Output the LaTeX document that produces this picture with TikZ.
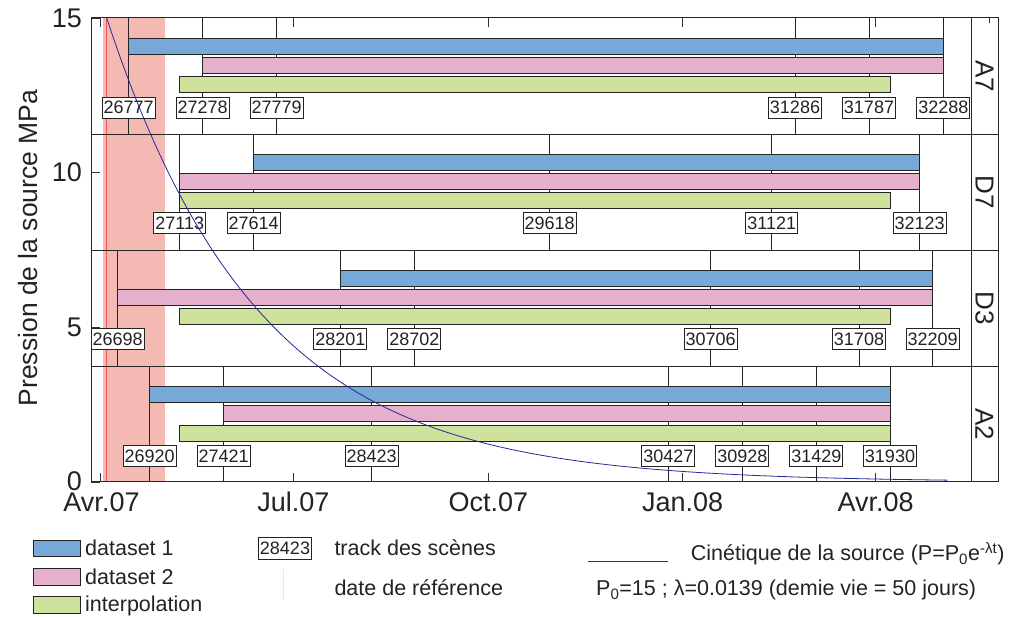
\documentclass[tikz,border=0pt]{standalone}
\usepackage{fontspec}
\setmainfont{Liberation Sans}
\definecolor{dsone}{RGB}{118,168,216}
\definecolor{dstwo}{RGB}{228,176,204}
\definecolor{interp}{RGB}{206,226,155}
\definecolor{refshade}{RGB}{245,185,180}
\definecolor{refred}{RGB}{238,85,85}
\definecolor{curvecol}{RGB}{35,40,155}
\definecolor{ink}{RGB}{35,35,35}
\definecolor{faint}{RGB}{245,228,228}
\begin{document}
\begin{tikzpicture}[x=1pt,y=-1pt,
  bar/.style={draw=ink,line width=0.8pt},
  trk/.style={draw=ink,line width=0.9pt},
  frame/.style={draw=black!85,line width=1pt},
  tick/.style={draw=black!80,line width=0.8pt},
  lbl/.style={draw=ink,fill=white,text=ink,line width=0.8pt,inner xsep=1.5pt,inner ysep=0pt,minimum height=21pt,font=\fontsize{18}{18}\selectfont},
  ticklab/.style={inner sep=0pt,text=ink,font=\fontsize{27}{27}\selectfont},
  rowlab/.style={inner sep=0pt,text=ink,rotate=-90,font=\fontsize{26}{26}\selectfont},
  legtext/.style={inner sep=0pt,anchor=base west,text=ink,font=\fontsize{21.5}{21.5}\selectfont},
  curve/.style={draw=curvecol,line width=0.8pt}]
\useasboundingbox (0,0) rectangle (1013,617);
% reference period
\fill[refshade] (103,18) rectangle (165,482);
\draw[refred,line width=1.2pt] (106.7,18) -- (106.7,482);
% track lines
\foreach \x in {128.7,202.7,276.7,795,869,943.3}{\draw[trk] (\x,18) -- (\x,134.3);}
\foreach \x in {179.7,253.7,549.7,771.7,919.7}{\draw[trk] (\x,134.3) -- (\x,250.3);}
\foreach \x in {117.7,340.3,414.3,710.7,859,932.7}{\draw[trk] (\x,250.3) -- (\x,366.7);}
\foreach \x in {149.7,223.7,371.7,668.3,742.3,816.3,890}{\draw[trk] (\x,366.7) -- (\x,482);}
% bars A7
\draw[bar,fill=dsone] (128.7,38.3) rectangle (943.3,54);
\draw[bar,fill=dstwo] (202.7,57.3) rectangle (943.3,73.3);
\draw[bar,fill=interp] (179.7,76.3) rectangle (890.3,92.3);
% bars D7
\draw[bar,fill=dsone] (253.7,154.3) rectangle (919.7,170.3);
\draw[bar,fill=dstwo] (179.7,173.3) rectangle (919.7,189.3);
\draw[bar,fill=interp] (179.7,192.3) rectangle (890.3,208.7);
% bars D3
\draw[bar,fill=dsone] (340.3,270.7) rectangle (932.7,286.3);
\draw[bar,fill=dstwo] (117.7,289.7) rectangle (932.7,305.7);
\draw[bar,fill=interp] (179.7,308.7) rectangle (890.3,324.7);
% bars A2
\draw[bar,fill=dsone] (149.7,386.3) rectangle (890,402.3);
\draw[bar,fill=dstwo] (223.7,405.7) rectangle (890,421.7);
\draw[bar,fill=interp] (179.7,425.3) rectangle (890,441.3);
% frame
\draw[frame] (91,18) rectangle (998,482);
\foreach \y in {134.3,250.3,366.7}{\draw[frame] (91,\y) -- (998,\y);}
\draw[frame] (971,18) -- (971,482);
% ticks
\foreach \x in {100.7,293.3,488.3,682.7,875.7}{
  \draw[tick] (\x,482) -- (\x,473);
  \draw[tick] (\x,18) -- (\x,27);}
\draw[tick] (989,18) -- (989,23);
\foreach \y in {18,172.7,327.3,482}{\draw[tick] (91,\y) -- (100,\y);}
% tick labels
\node[ticklab,anchor=east] (y15) at (82,18) {15};
\node[ticklab,anchor=east] (y10) at (82,172.7) {10};
\node[ticklab,anchor=east] (y5) at (82,327.3) {5};
\node[ticklab,anchor=east] (y0) at (82,481) {0};
\node[ticklab,anchor=base] (xa7) at (101.5,512) {Avr.07};
\node[ticklab,anchor=base] (xj7) at (293.3,512) {Jul.07};
\node[ticklab,anchor=base] (xo7) at (488.3,512) {Oct.07};
\node[ticklab,anchor=base] (xj8) at (682.7,512) {Jan.08};
\node[ticklab,anchor=base] (xa8) at (875.7,512) {Avr.08};
\node[inner sep=0pt,text=ink,rotate=90,font=\fontsize{26.5}{26.5}\selectfont] (ylab) at (28,248) {Pression de la source MPa};
% row labels
\node[rowlab] (rA7) at (984.5,76) {A7};
\node[rowlab] (rD7) at (984.5,192) {D7};
\node[rowlab] (rD3) at (984.5,308.5) {D3};
\node[rowlab] (rA2) at (984.5,424.5) {A2};
% track labels
\foreach \x/\t in {128.7/26777,202.7/27278,276.7/27779,795/31286,869/31787,943.3/32288}{\node[lbl] (a7-\t) at (\x,107.7) {\t};}
\foreach \x/\t in {179.7/27113,253.7/27614,549.7/29618,771.7/31121,919.7/32123}{\node[lbl] (d7-\t) at (\x,223.3) {\t};}
\foreach \x/\t in {117.7/26698,340.3/28201,414.3/28702,710.7/30706,859/31708,932.7/32209}{\node[lbl] (d3-\t) at (\x,339.3) {\t};}
\foreach \x/\t in {149.7/26920,223.7/27421,371.7/28423,668.3/30427,742.3/30928,816.3/31429,890/31930}{\node[lbl] (a2-\t) at (\x,456) {\t};}
% source kinetics curve
\draw[curve] plot[domain=0:397,samples=200,smooth] ({106.7+2.1175*\x},{482-30.93*15*exp(-0.0139*\x)});
% legend left
\draw[bar,fill=dsone] (33.3,540) rectangle (80,556.7);
\draw[bar,fill=dstwo] (33.3,568.3) rectangle (80,585);
\draw[bar,fill=interp] (33.3,596.7) rectangle (80,613.3);
\node[legtext] (l1) at (85,556) {dataset 1};
\node[legtext] (l2) at (85,584) {dataset 2};
\node[legtext] (l3) at (85,611.5) {interpolation};
% legend middle
\node[lbl,minimum height=22pt] (leg-track) at (285,548) {28423};
\node[legtext] (l4) at (334.3,556) {track des scènes};
\draw[faint,line width=1pt] (283.3,569) -- (283.3,600);
\node[legtext] (l5) at (334.3,595) {date de référence};
% legend right
\draw[curve] (588.3,561.7) -- (668.3,561.7);
\node[legtext] (l6) at (690.7,561) {Cinétique de la source (P=P\textsubscript{0}e\textsuperscript{-λt})};
\node[legtext] (l7) at (596,596) {P\textsubscript{0}=15 ; λ=0.0139 (demie vie = 50 jours)};
\end{tikzpicture}
\end{document}
